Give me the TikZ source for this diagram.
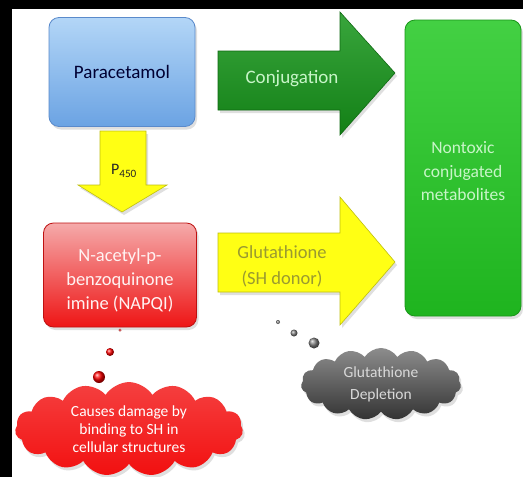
\documentclass[tikz,border=0pt]{standalone}
\usepackage{fontspec}
\setmainfont{Carlito}
\usetikzlibrary{shapes.symbols, shadows, positioning}
\definecolor{paratop}{HTML}{B3D6F7}
\definecolor{parabot}{HTML}{6BA3E3}
\definecolor{paraline}{HTML}{5A8ACB}
\definecolor{conjgreen}{HTML}{16961A}
\definecolor{metagreen}{HTML}{22C822}
\definecolor{arrowyellow}{HTML}{FFFF14}
\definecolor{napqitop}{HTML}{F5AAAA}
\definecolor{napqibot}{HTML}{EE1515}
\definecolor{cloudred}{HTML}{F21010}
\definecolor{olivetext}{HTML}{9A9A30}
\definecolor{palegreen}{HTML}{C8F5C8}

\begin{document}
\begin{tikzpicture}[x=1pt, y=-1pt,
    softshadow/.style={drop shadow={opacity=0.25, shadow xshift=2pt, shadow yshift=-3pt}},
    roundbox/.style={rounded corners=10pt, line width=0.8pt, align=center, softshadow},
    blockarrow/.style={line width=0.6pt, softshadow},
    puff/.style={cloud, cloud puffs=15, cloud puff arc=115, cloud ignores aspect, align=center, softshadow}]
  % frame
  \fill[black] (0,0) rectangle (523,477);
  \fill[white] (12,9) rectangle (523,477);
  % boxes
  \node[roundbox, draw=paraline, top color=paratop, bottom color=parabot,
        minimum width=146pt, minimum height=109pt, text=black!80!blue,
        font=\fontsize{19}{23}\selectfont] (para) at (122,72) {Paracetamol};
  \node[roundbox, draw=napqibot!80!black, top color=napqitop, bottom color=napqibot,
        minimum width=153pt, minimum height=104pt] (napqi) at (120,275) {};
  \node[text=white!95!red, align=center, font=\fontsize{18.5}{24}\selectfont]
        (napqitext) at ([yshift=-5pt]napqi.center) {N-acetyl-p-\\benzoquinone\\imine (NAPQI)};
  \node[roundbox, draw=metagreen!75!black, top color=metagreen!85!white, bottom color=metagreen!90!black,
        minimum width=116pt, minimum height=296pt] (meta) at (463,168) {};
  \node[text=palegreen, align=center, font=\fontsize{17.5}{23.5}\selectfont]
        (metatext) at ([yshift=-3.5pt]meta.center) {Nontoxic\\conjugated\\metabolites};
  % Conjugation
  \path[blockarrow, draw=conjgreen!70!black, top color=conjgreen!85!white, bottom color=conjgreen!85!black]
    (218,51) -- (340,51) -- (340,12) -- (395,73) -- (340,135) -- (340,110) -- (218,110) -- cycle;
  \node[text=palegreen, font=\fontsize{19}{22}\selectfont] (conj) at (292,79) {Conjugation};
  % Glutathione (SH donor)
  \path[blockarrow, draw=arrowyellow!75!black, fill=arrowyellow]
    (218,233) -- (340,233) -- (340,197) -- (395,262) -- (340,325) -- (340,292) -- (218,292) -- cycle;
  \node[text=olivetext, align=center, font=\fontsize{18.5}{26}\selectfont] (gsh) at (282,266) {Glutathione\\(SH donor)};
  % P450
  \path[blockarrow, draw=arrowyellow!75!black, fill=arrowyellow]
    (100,131) -- (146,131) -- (146,185) -- (167,185) -- (122,212) -- (78,185) -- (100,185) -- cycle;
  \node[text=black!85, font=\fontsize{16}{20}\selectfont] (cyp) at (124,171) {P\textsubscript{450}};
  % Bubbles
  \shade[ball color=red] (120,330) circle (1.5pt);
  \shade[ball color=red] (110,352) circle (4pt);
  \shade[ball color=red] (99,377) circle (6pt);
  \shade[ball color=gray] (278,322) circle (2pt);
  \shade[ball color=gray] (294,333) circle (3.5pt);
  \shade[ball color=gray] (314,343) circle (5.5pt);
  % Clouds
  \node[puff, top color=cloudred!80!white, bottom color=cloudred, minimum width=228pt, minimum height=90pt,
        text=white, font=\fontsize{15.5}{18}\selectfont] (damage) at (129,429) {Causes damage by\\binding to SH in\\cellular structures};
  \node[puff, top color=gray!90!white, bottom color=black!80, minimum width=160pt, minimum height=72pt,
        text=black!15, font=\fontsize{15.5}{22}\selectfont] (depletion) at (381,384) {Glutathione\\Depletion};
\end{tikzpicture}
\end{document}
